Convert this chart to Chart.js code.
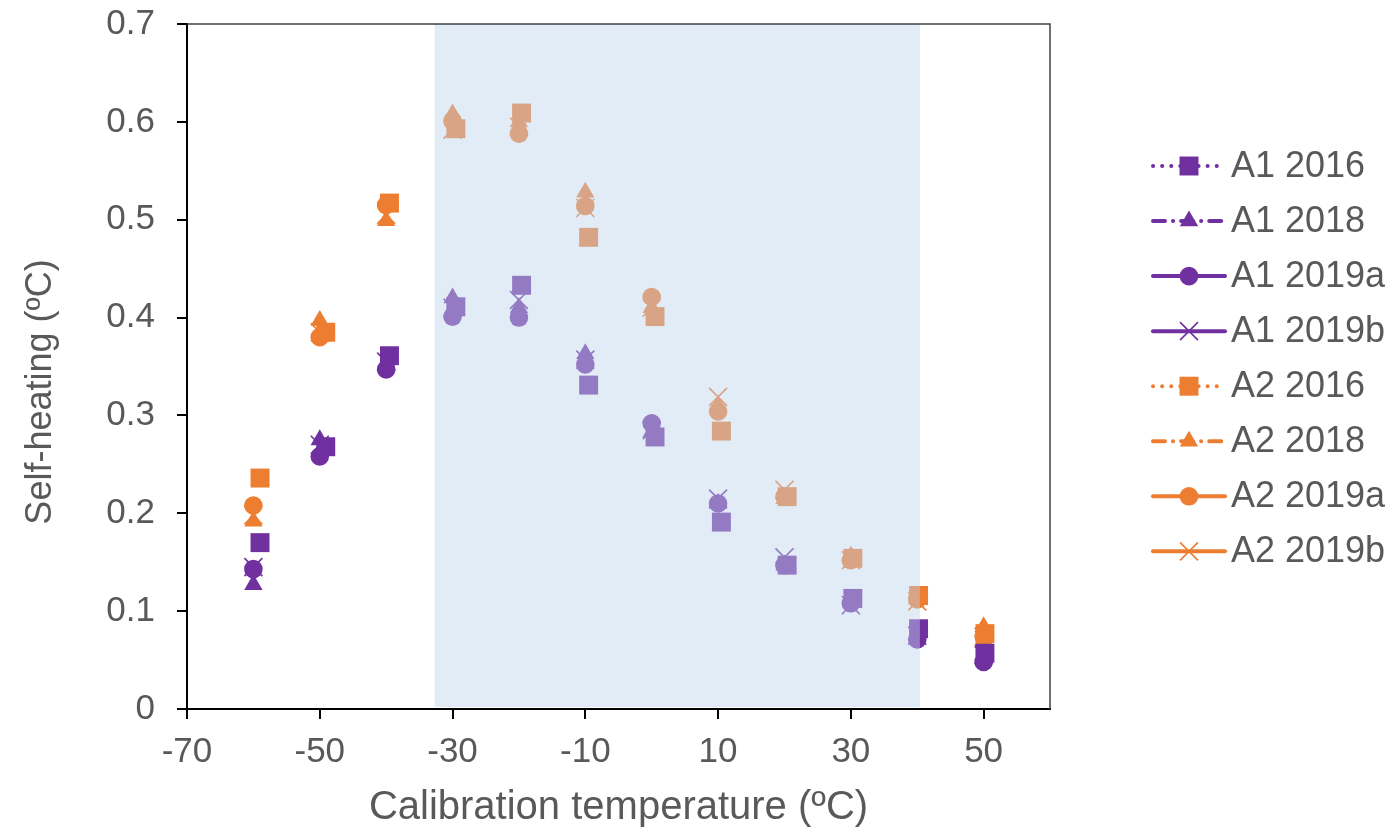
<!DOCTYPE html>
<html>
<head>
<meta charset="utf-8">
<script src="https://cdn.jsdelivr.net/npm/chart.js@4.4.1/dist/chart.umd.min.js"></script>
<style>
  html, body { margin: 0; padding: 0; background: #fff; }
</style>
</head>
<body>
<canvas id="chart" width="1396" height="832"></canvas>
<script>
// calibration temperatures (squares were plotted slightly to the right)
const tempX = [-60, -50, -40, -30, -20, -10, 0, 10, 20, 30, 40, 50];
const squareX = [-59, -49.1, -39.5, -29.5, -19.6, -9.5, 0.5, 10.5, 20.4, 30.3, 40.2, 50.2];
const xTicks = [-70, -50, -30, -10, 10, 30, 50];

// self-heating values
const a1_2016 = [0.170, 0.268, 0.361, 0.411, 0.433, 0.331, 0.278, 0.191, 0.147, 0.113, 0.082, 0.057];
const a1_2018 = [0.127, 0.275, 0.352, 0.420, 0.410, 0.363, 0.283, 0.210, 0.147, 0.110, 0.075, 0.055];
const a1_2019a = [0.143, 0.258, 0.347, 0.401, 0.400, 0.352, 0.292, 0.210, 0.147, 0.108, 0.071, 0.048];
const a1_2019b = [0.145, 0.270, 0.355, 0.410, 0.418, 0.357, 0.285, 0.215, 0.155, 0.106, 0.075, 0.055];
const a2_2016 = [0.236, 0.385, 0.517, 0.593, 0.609, 0.482, 0.401, 0.284, 0.217, 0.154, 0.116, 0.077];
const a2_2018 = [0.192, 0.397, 0.499, 0.608, 0.600, 0.528, 0.410, 0.310, 0.215, 0.156, 0.113, 0.084];
const a2_2019a = [0.208, 0.380, 0.515, 0.601, 0.588, 0.514, 0.421, 0.304, 0.217, 0.152, 0.112, 0.074];
const a2_2019b = [0.198, 0.385, 0.505, 0.592, 0.595, 0.512, 0.410, 0.319, 0.224, 0.152, 0.110, 0.074];

// shaded temperature range
const bandRange = [-32.7, 40.4];

const purple = '#7030a0';
const orange = '#ed7d31';
const textColor = '#595959';
const font = 'Liberation Sans, Arial, Helvetica, sans-serif';

const markers = {
    rect: { pointStyle: 'rect', pointRadius: 13.4, pointBorderWidth: 0, order: 1 },
    triangle: { pointStyle: 'triangle', pointRadius: 10.6, pointBorderWidth: 0, order: 3 },
    circle: { pointStyle: 'circle', pointRadius: 9.3, pointBorderWidth: 0, order: 2 },
    crossRot: { pointStyle: 'crossRot', pointRadius: 12.7, pointBorderWidth: 1.6, order: 4 }
};

function series(label, xs, ys, color, marker, dash) {
    return Object.assign({
        label: label,
        data: ys.map((y, i) => ({ x: xs[i], y: y })),
        backgroundColor: color,
        borderColor: color,
        showLine: false,
        legendDash: dash
    }, markers[marker]);
}

const datasets = [
    series('A1 2016', squareX, a1_2016, purple, 'rect', [0.1, 9]),
    series('A1 2018', tempX, a1_2018, purple, 'triangle', [12, 8, 0.1, 8]),
    series('A1 2019a', tempX, a1_2019a, purple, 'circle', []),
    series('A1 2019b', tempX, a1_2019b, purple, 'crossRot', []),
    series('A2 2016', squareX, a2_2016, orange, 'rect', [0.1, 9]),
    series('A2 2018', tempX, a2_2018, orange, 'triangle', [12, 8, 0.1, 8]),
    series('A2 2019a', tempX, a2_2019a, orange, 'circle', []),
    series('A2 2019b', tempX, a2_2019b, orange, 'crossRot', [])
];

// translucent band over the markers, plus the plot frame
const bandPlugin = {
    id: 'band',
    afterDatasetsDraw(chart) {
        const { ctx, chartArea: a, scales: { x } } = chart;
        const x0 = x.getPixelForValue(bandRange[0]);
        const x1 = x.getPixelForValue(bandRange[1]);
        ctx.save();
        ctx.fillStyle = 'rgba(190, 213, 237, 0.45)';
        ctx.fillRect(x0, a.top, x1 - x0, a.bottom - a.top - 2);
        ctx.strokeStyle = '#404040';
        ctx.lineWidth = 1.5;
        ctx.beginPath();
        ctx.moveTo(a.left, a.top);
        ctx.lineTo(a.right, a.top);
        ctx.lineTo(a.right, a.bottom);
        ctx.stroke();
        ctx.restore();
    }
};

// y axis title, sitting a little below the middle as in the original
const yTitlePlugin = {
    id: 'yTitle',
    afterDraw(chart) {
        const ctx = chart.ctx;
        ctx.save();
        ctx.translate(41, 392);
        ctx.rotate(-Math.PI / 2);
        ctx.fillStyle = textColor;
        ctx.font = '36px ' + font;
        ctx.textAlign = 'center';
        ctx.textBaseline = 'middle';
        ctx.fillText('Self-heating (ºC)', 0, 0);
        ctx.restore();
    }
};

// legend with line + marker samples
const legendPlugin = {
    id: 'sideLegend',
    afterDraw(chart) {
        const ctx = chart.ctx;
        const lineX0 = 1153, lineX1 = 1225, top = 166, step = 55.05;
        chart.data.datasets.forEach((ds, i) => {
            const y = top + i * step;
            ctx.save();
            ctx.strokeStyle = ds.borderColor;
            ctx.fillStyle = ds.backgroundColor;
            ctx.lineWidth = 4;
            ctx.lineCap = 'round';
            ctx.setLineDash(ds.legendDash);
            ctx.beginPath();
            ctx.moveTo(lineX0, y);
            ctx.lineTo(lineX1, y);
            ctx.stroke();
            ctx.setLineDash([]);
            ctx.lineCap = 'butt';
            ctx.lineWidth = ds.pointBorderWidth;
            Chart.helpers.drawPoint(ctx, {
                pointStyle: ds.pointStyle,
                radius: ds.pointRadius,
                rotation: 0,
                borderWidth: ds.pointBorderWidth
            }, (lineX0 + lineX1) / 2, y);
            ctx.fillStyle = textColor;
            ctx.font = '36px ' + font;
            ctx.textBaseline = 'middle';
            ctx.fillText(ds.label, 1231, y + 1);
            ctx.restore();
        });
    }
};

const ctx = document.getElementById('chart').getContext('2d');
const chart = new Chart(ctx, {
    type: 'scatter',
    data: { datasets: datasets },
    options: {
        responsive: false,
        animation: false,
        layout: { padding: { left: 0, top: 24, right: 346, bottom: 0 } },
        plugins: {
            legend: { display: false },
            tooltip: { enabled: false }
        },
        scales: {
            x: {
                type: 'linear',
                min: -70,
                max: 60,
                afterBuildTicks: scale => { scale.ticks = xTicks.map(v => ({ value: v })); },
                afterFit: scale => { scale.height = 123; },
                grid: { drawOnChartArea: false, drawTicks: true, tickLength: 10, color: '#000', lineWidth: 2 },
                border: { color: '#000', width: 2 },
                ticks: { color: textColor, font: { family: font, size: 35 }, padding: 12, maxRotation: 0 },
                title: {
                    display: true,
                    text: 'Calibration temperature (ºC)',
                    color: textColor,
                    font: { family: font, size: 40 },
                    padding: { top: 0, bottom: 0 }
                }
            },
            y: {
                min: 0,
                max: 0.7,
                afterFit: scale => {
                    scale.width = 187;
                    scale.paddingTop = 0;
                    scale.paddingBottom = 0;
                },
                grid: { drawOnChartArea: false, drawTicks: true, tickLength: 10, color: '#000', lineWidth: 2 },
                border: { color: '#000', width: 2 },
                ticks: { stepSize: 0.1, color: textColor, font: { family: font, size: 35 }, padding: 22 },
                title: { display: false }
            }
        }
    },
    plugins: [bandPlugin, yTitlePlugin, legendPlugin]
});
</script>
</body>
</html>
